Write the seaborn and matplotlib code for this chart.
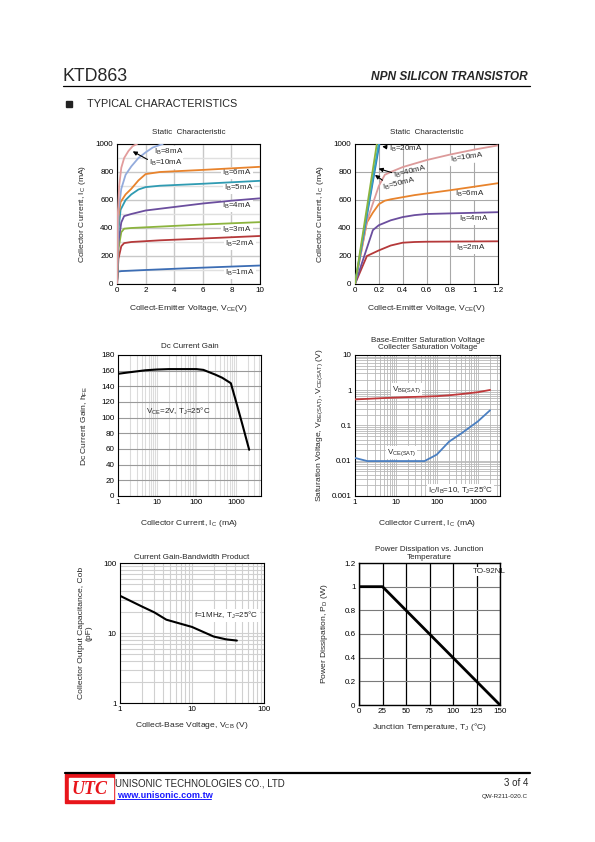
import numpy as np
import pandas as pd
import matplotlib
matplotlib.use("Agg")
import matplotlib.pyplot as plt
from matplotlib.patches import Rectangle
from matplotlib.ticker import LogLocator, FixedLocator, NullFormatter
import seaborn as sns

sns.set_theme(style="white")
plt.rcParams["font.family"] = ["Liberation Sans", "DejaVu Sans"]
plt.rcParams["mathtext.default"] = "regular"

# ---- Static characteristic, 0-10 V ----
s1_v = {
    "1mA": [0, 0.05, 0.3, 2, 5, 10],
    "2mA": [0, 0.1, 0.3, 0.5, 1, 3, 6, 10],
    "3mA": [0, 0.1, 0.3, 0.5, 1, 3, 6, 10],
    "4mA": [0, 0.1, 0.3, 0.5, 1, 2, 4, 6, 8, 10],
    "5mA": [0, 0.1, 0.25, 0.6, 1, 1.5, 2, 3, 6, 10],
    "6mA": [0, 0.1, 0.25, 0.6, 1, 1.5, 2, 3, 6, 10],
    "8mA": [0, 0.1, 0.3, 0.6, 1, 1.5, 2, 2.5, 3.2],
    "10mA": [0, 0.05, 0.15, 0.3, 0.5, 0.8, 1.1, 1.4],
}
s1_i = {
    "1mA": [0, 88, 92, 100, 113, 132],
    "2mA": [0, 180, 270, 292, 300, 312, 325, 343],
    "3mA": [0, 250, 370, 395, 400, 410, 425, 442],
    "4mA": [0, 300, 440, 485, 500, 525, 550, 575, 595, 612],
    "5mA": [0, 380, 530, 600, 640, 675, 692, 702, 716, 737],
    "6mA": [0, 480, 585, 640, 680, 740, 785, 800, 815, 837],
    "8mA": [0, 520, 680, 780, 840, 900, 940, 975, 1000],
    "10mA": [0, 480, 700, 830, 900, 950, 985, 1000],
}
s1_colors = {"1mA": "#3c6db4", "2mA": "#b5393a", "3mA": "#8cb43e", "4mA": "#6b4e9e",
             "5mA": "#2f9bb2", "6mA": "#e8832c", "8mA": "#93abdc", "10mA": "#e29c9c"}
s1_lab_x = {"6mA": 8.4, "5mA": 8.5, "4mA": 8.4, "3mA": 8.4, "2mA": 8.6, "1mA": 8.6}
s1_lab_y = {"6mA": 790, "5mA": 688, "4mA": 555, "3mA": 388, "2mA": 283, "1mA": 80}

# ---- Static characteristic, 0-1.2 V ----
s2_v = {
    "2mA": [0, 0.1, 0.2, 0.3, 0.4, 0.5, 0.6, 1.2],
    "4mA": [0, 0.15, 0.2, 0.3, 0.4, 0.5, 0.6, 1.2],
    "6mA": [0, 0.1, 0.15, 0.2, 0.25, 0.3, 0.5, 0.8, 1.2],
    "10mA": [0, 0.1, 0.2, 0.25, 0.3, 0.4, 0.6, 0.8, 1.0, 1.2],
    "20mA": [0, 0.205],
    "40mA": [0, 0.198],
    "50mA": [0, 0.183],
}
s2_i = {
    "2mA": [0, 200, 240, 275, 295, 300, 302, 305],
    "4mA": [0, 385, 420, 455, 478, 492, 500, 513],
    "6mA": [0, 440, 510, 570, 595, 605, 635, 670, 720],
    "10mA": [0, 450, 700, 780, 800, 835, 885, 925, 960, 990],
    "20mA": [0, 1000],
    "40mA": [0, 1000],
    "50mA": [0, 1000],
}
s2_colors = {"2mA": "#b5393a", "4mA": "#6b4e9e", "6mA": "#e8832c", "10mA": "#dc9a9a",
             "20mA": "#2f75b8", "40mA": "#35a7c6", "50mA": "#8cb43e"}

# ---- DC current gain ----
hfe_ic = [1, 2, 5, 10, 20, 50, 100, 150, 200, 300, 450, 750, 1000, 1500, 2200]
hfe_val = [156, 158, 160.5, 161.5, 162, 162, 162, 161, 158.5, 155, 151, 144, 122, 90, 59]

# ---- Saturation voltages ----
sat_ic = [1, 2, 5, 10, 20, 50, 70, 100, 200, 400, 1000, 2000]
vbe_sat = [0.55, 0.57, 0.6, 0.62, 0.64, 0.66, 0.67, 0.68, 0.72, 0.78, 0.88, 1.02]
vce_sat = [0.012, 0.0098, 0.0098, 0.0098, 0.0098, 0.0098, 0.012, 0.015, 0.035, 0.06, 0.13, 0.27]

# ---- Output capacitance ----
cob_v = [1, 2, 3, 4.4, 10, 20, 30, 42]
cob_pf = [34, 24, 19.7, 15.5, 12.2, 8.9, 8.1, 7.8]

# ---- Power derating ----
pd_t = [0, 25, 150]
pd_w = [1.0, 1.0, 0.0]

W, H = 595, 842
fig = plt.figure(figsize=(W / 100, H / 100), dpi=100)
FS = 5.8


def place(l, t, r, b):
    ax = fig.add_axes([l / W, 1 - b / H, (r - l) / W, (b - t) / H])
    ax.set_facecolor("white")
    for s in ax.spines.values():
        s.set_color("black")
        s.set_linewidth(0.8)
        s.set_visible(True)
    ax.tick_params(which="both", length=0, labelsize=FS, pad=2.5, colors="black")
    return ax


def lab(ax, x, y, s, rot=0, box=True):
    # labels sit under the curves but above the grid
    kw = dict(fontsize=FS, ha="center", va="center", rotation=rot, zorder=2.5)
    if box:
        kw["bbox"] = dict(boxstyle="square,pad=0.12", fc="white", ec="none")
    ax.text(x, y, s, **kw)


def draw(ax, x, y, color, lw=1.3):
    sns.lineplot(x=x, y=y, ax=ax, color=color, lw=lw, sort=False, zorder=3)


# ---------- chart 1 ----------
ax1 = place(117, 144, 260, 284)
ax1.set_xlim(0, 10)
ax1.set_ylim(0, 1000)
ax1.set_xticks(range(0, 11, 2))
ax1.set_yticks(range(0, 1001, 200))
ax1.yaxis.set_minor_locator(FixedLocator(range(100, 1000, 200)))
ax1.grid(True, which="major", color="#c8c8c8", lw=1.0)
ax1.grid(True, which="minor", axis="y", color="#e0e0e0", lw=1.0)
for k in s1_v:
    draw(ax1, s1_v[k], s1_i[k], s1_colors[k])
for k in s1_lab_x:
    lab(ax1, s1_lab_x[k], s1_lab_y[k], "I$_B$=" + k)
lab(ax1, 3.6, 940, "I$_B$=8mA")
lab(ax1, 3.4, 862, "I$_B$=10mA")
ax1.annotate("", xy=(0.93, 957), xytext=(2.3, 880),
             arrowprops=dict(arrowstyle="-|>", color="black", lw=0.8, mutation_scale=6), zorder=6)
ax1.set_title("Static  Characteristic", fontsize=FS, pad=7)
ax1.set_xlabel("Collect-Emitter Voltage, V$_{CE}$(V)", fontsize=FS + 0.3, labelpad=6)
ax1.set_ylabel("Collector Current, I$_C$ (mA)", fontsize=FS + 0.3, labelpad=6)

# ---------- chart 2 ----------
ax2 = place(355, 144, 498, 284)
ax2.set_xlim(0, 1.2)
ax2.set_ylim(0, 1000)
ax2.set_xticks([0, 0.2, 0.4, 0.6, 0.8, 1, 1.2])
ax2.set_xticklabels(["0", "0.2", "0.4", "0.6", "0.8", "1", "1.2"])
ax2.set_yticks(range(0, 1001, 200))
ax2.grid(True, color="#a8a8a8", lw=0.8)
for k in s2_v:
    draw(ax2, s2_v[k], s2_i[k], s2_colors[k])
lab(ax2, 0.43, 965, "I$_B$=20mA", box=False)
lab(ax2, 0.46, 802, "I$_B$=40mA", rot=14, box=False)
lab(ax2, 0.37, 712, "I$_B$=50mA", rot=14, box=False)
lab(ax2, 0.94, 902, "I$_B$=10mA", rot=8)
lab(ax2, 0.96, 643, "I$_B$=6mA")
lab(ax2, 1.0, 464, "I$_B$=4mA")
lab(ax2, 0.97, 255, "I$_B$=2mA")
arrow = dict(arrowstyle="-|>", color="black", lw=0.8, mutation_scale=6)
ax2.annotate("", xy=(0.205, 985), xytext=(0.29, 975), arrowprops=arrow)
ax2.annotate("", xy=(0.176, 830), xytext=(0.33, 790), arrowprops=arrow)
ax2.annotate("", xy=(0.148, 790), xytext=(0.25, 730), arrowprops=arrow)
ax2.set_title("Static  Characteristic", fontsize=FS, pad=7)
ax2.set_xlabel("Collect-Emitter Voltage, V$_{CE}$(V)", fontsize=FS + 0.3, labelpad=6)
ax2.set_ylabel("Collector Current, I$_C$ (mA)", fontsize=FS + 0.3, labelpad=6)

# ---------- chart 3 ----------
ax3 = place(118, 355, 261, 496)
ax3.set_xscale("log")
ax3.set_xlim(1, 4400)
ax3.set_ylim(0, 180)
ax3.set_yticks(range(0, 181, 20))
ax3.xaxis.set_major_locator(FixedLocator([1, 10, 100, 1000]))
ax3.set_xticklabels(["1", "10", "100", "1000"])
ax3.xaxis.set_minor_locator(LogLocator(base=10, subs=np.arange(2, 10)))
ax3.xaxis.set_minor_formatter(NullFormatter())
ax3.grid(True, which="both", axis="x", color="#dcdcdc", lw=0.8)
ax3.grid(True, which="major", axis="y", color="#9a9a9a", lw=0.8)
draw(ax3, hfe_ic, hfe_val, "black", lw=1.5)
lab(ax3, 34, 107.5, "V$_{CE}$=2V, T$_J$=25°C", box=False)
ax3.set_title("Dc Current Gain", fontsize=FS, pad=5)
ax3.set_xlabel("Collector Current, I$_C$ (mA)", fontsize=FS + 0.3, labelpad=8)
ax3.set_ylabel("Dc Current Gain, h$_{FE}$", fontsize=FS + 0.3, labelpad=8)

# ---------- chart 4 ----------
ax4 = place(355, 355, 500, 496)
ax4.set_xscale("log")
ax4.set_yscale("log")
ax4.set_xlim(1, 3500)
ax4.set_ylim(0.001, 10)
ax4.xaxis.set_major_locator(FixedLocator([1, 10, 100, 1000]))
ax4.set_xticklabels(["1", "10", "100", "1000"])
ax4.yaxis.set_major_locator(FixedLocator([0.001, 0.01, 0.1, 1, 10]))
ax4.set_yticklabels(["0.001", "0.01", "0.1", "1", "10"])
for a in (ax4.xaxis, ax4.yaxis):
    a.set_minor_locator(LogLocator(base=10, subs=np.arange(2, 10)))
    a.set_minor_formatter(NullFormatter())
ax4.grid(True, which="both", color="#b8b8b8", lw=0.6)
draw(ax4, sat_ic, vbe_sat, "#c0393b")
draw(ax4, sat_ic, vce_sat, "#4a7fc1")
lab(ax4, 18, 1.06, "V$_{BE(SAT)}$")
lab(ax4, 13.8, 0.0168, "V$_{CE(SAT)}$")
lab(ax4, 373, 0.00146, "I$_C$/I$_B$=10, T$_J$=25°C")
ax4.set_title("Base-Emitter Saturation Voltage\nCollecter Saturation Voltage",
              fontsize=FS, pad=4, linespacing=1.1)
ax4.set_xlabel("Collector Current, I$_C$ (mA)", fontsize=FS + 0.3, labelpad=8)
ax4.set_ylabel("Saturation Voltage, V$_{BE(SAT)}$, V$_{CE(SAT)}$ (V)", fontsize=FS + 0.3, labelpad=5)

# ---------- chart 5 ----------
ax5 = place(120, 563, 264, 703)
ax5.set_xscale("log")
ax5.set_yscale("log")
ax5.set_xlim(1, 100)
ax5.set_ylim(1, 100)
for a in (ax5.xaxis, ax5.yaxis):
    a.set_major_locator(FixedLocator([1, 10, 100]))
    a.set_minor_locator(LogLocator(base=10, subs=np.arange(2, 10)))
    a.set_minor_formatter(NullFormatter())
ax5.set_xticklabels(["1", "10", "100"])
ax5.set_yticklabels(["1", "10", "100"])
ax5.grid(True, which="both", color="#d0d0d0", lw=0.8)
draw(ax5, cob_v, cob_pf, "black", lw=1.5)
lab(ax5, 30, 17.7, "f=1MHz, T$_J$=25°C")
ax5.set_title("Current Gain-Bandwidth Product", fontsize=FS, pad=3)
ax5.set_xlabel("Collect-Base Voltage, V$_{CB}$ (V)", fontsize=FS + 0.3, labelpad=5)
ax5.set_ylabel("Collector Output Capacitance, Cob\n(pF)", fontsize=FS + 0.3, labelpad=8,
               linespacing=1.1)

# ---------- chart 6 ----------
ax6 = place(359, 563, 500, 705)
ax6.set_xlim(0, 150)
ax6.set_ylim(0, 1.2)
ax6.set_xticks(range(0, 151, 25))
ax6.set_yticks([0, 0.2, 0.4, 0.6, 0.8, 1, 1.2])
ax6.set_yticklabels(["0", "0.2", "0.4", "0.6", "0.8", "1", "1.2"])
ax6.grid(True, axis="x", color="black", lw=0.9)
ax6.grid(True, axis="y", color="#7a7a7a", lw=0.8)
for s in ax6.spines.values():
    s.set_linewidth(1.0)
draw(ax6, pd_t, pd_w, "black", lw=2.0)
lab(ax6, 138, 1.13, "TO-92NL")
ax6.set_title("Power Dissipation vs. Junction\nTemperature", fontsize=FS, pad=3, linespacing=1.1)
ax6.set_xlabel("Junction Temperature, T$_J$ (°C)", fontsize=FS + 0.3, labelpad=4)
ax6.set_ylabel("Power Dissipation, P$_D$ (W)", fontsize=FS + 0.3, labelpad=10)

# ---------- page header / footer ----------
fig.text(63 / W, 1 - 81 / H, "KTD863", fontsize=12.8, ha="left", va="baseline")
fig.text(528 / W, 1 - 80 / H, "NPN SILICON TRANSISTOR", fontsize=8.6, weight="bold",
         style="italic", ha="right", va="baseline")
fig.add_artist(plt.Line2D([63 / W, 530 / W], [1 - 86 / H] * 2, color="black", lw=0.9))
fig.add_artist(Rectangle((66 / W, 1 - 107 / H), 6 / W, 6 / H, color="#222222"))
fig.text(87 / W, 1 - 107 / H, "TYPICAL CHARACTERISTICS", fontsize=7.8, ha="left",
         va="baseline")

fig.add_artist(plt.Line2D([65 / W, 530 / W], [1 - 773 / H] * 2, color="black", lw=1.6))
fig.add_artist(Rectangle((65 / W, 1 - 803 / H), 49 / W, 29 / H, color="#e8151b"))
fig.add_artist(Rectangle((69 / W, 1 - 799 / H), 44 / W, 21 / H, color="white"))
fig.text(90 / W, 1 - 789 / H, "UTC", fontsize=13, family=["Liberation Serif", "DejaVu Serif"],
         style="italic", weight="bold", color="#e8151b", ha="center", va="center")
fig.text(115 / W, 1 - 786 / H, "UNISONIC TECHNOLOGIES CO., LTD", fontsize=7.0,
         ha="left", va="baseline")
fig.text(117 / W, 1 - 797.5 / H, "www.unisonic.com.tw", fontsize=6.6, weight="bold",
         color="#1a1aff", ha="left", va="baseline")
fig.add_artist(plt.Line2D([117 / W, 211 / W], [1 - 799 / H] * 2, color="#1a1aff", lw=0.7))
fig.text(528 / W, 1 - 786 / H, "3 of 4", fontsize=7, ha="right", va="baseline")
fig.text(528 / W, 1 - 798 / H, "QW-R211-020.C", fontsize=4.5, ha="right", va="baseline")

fig.savefig("out.png", dpi=100, facecolor="white")
